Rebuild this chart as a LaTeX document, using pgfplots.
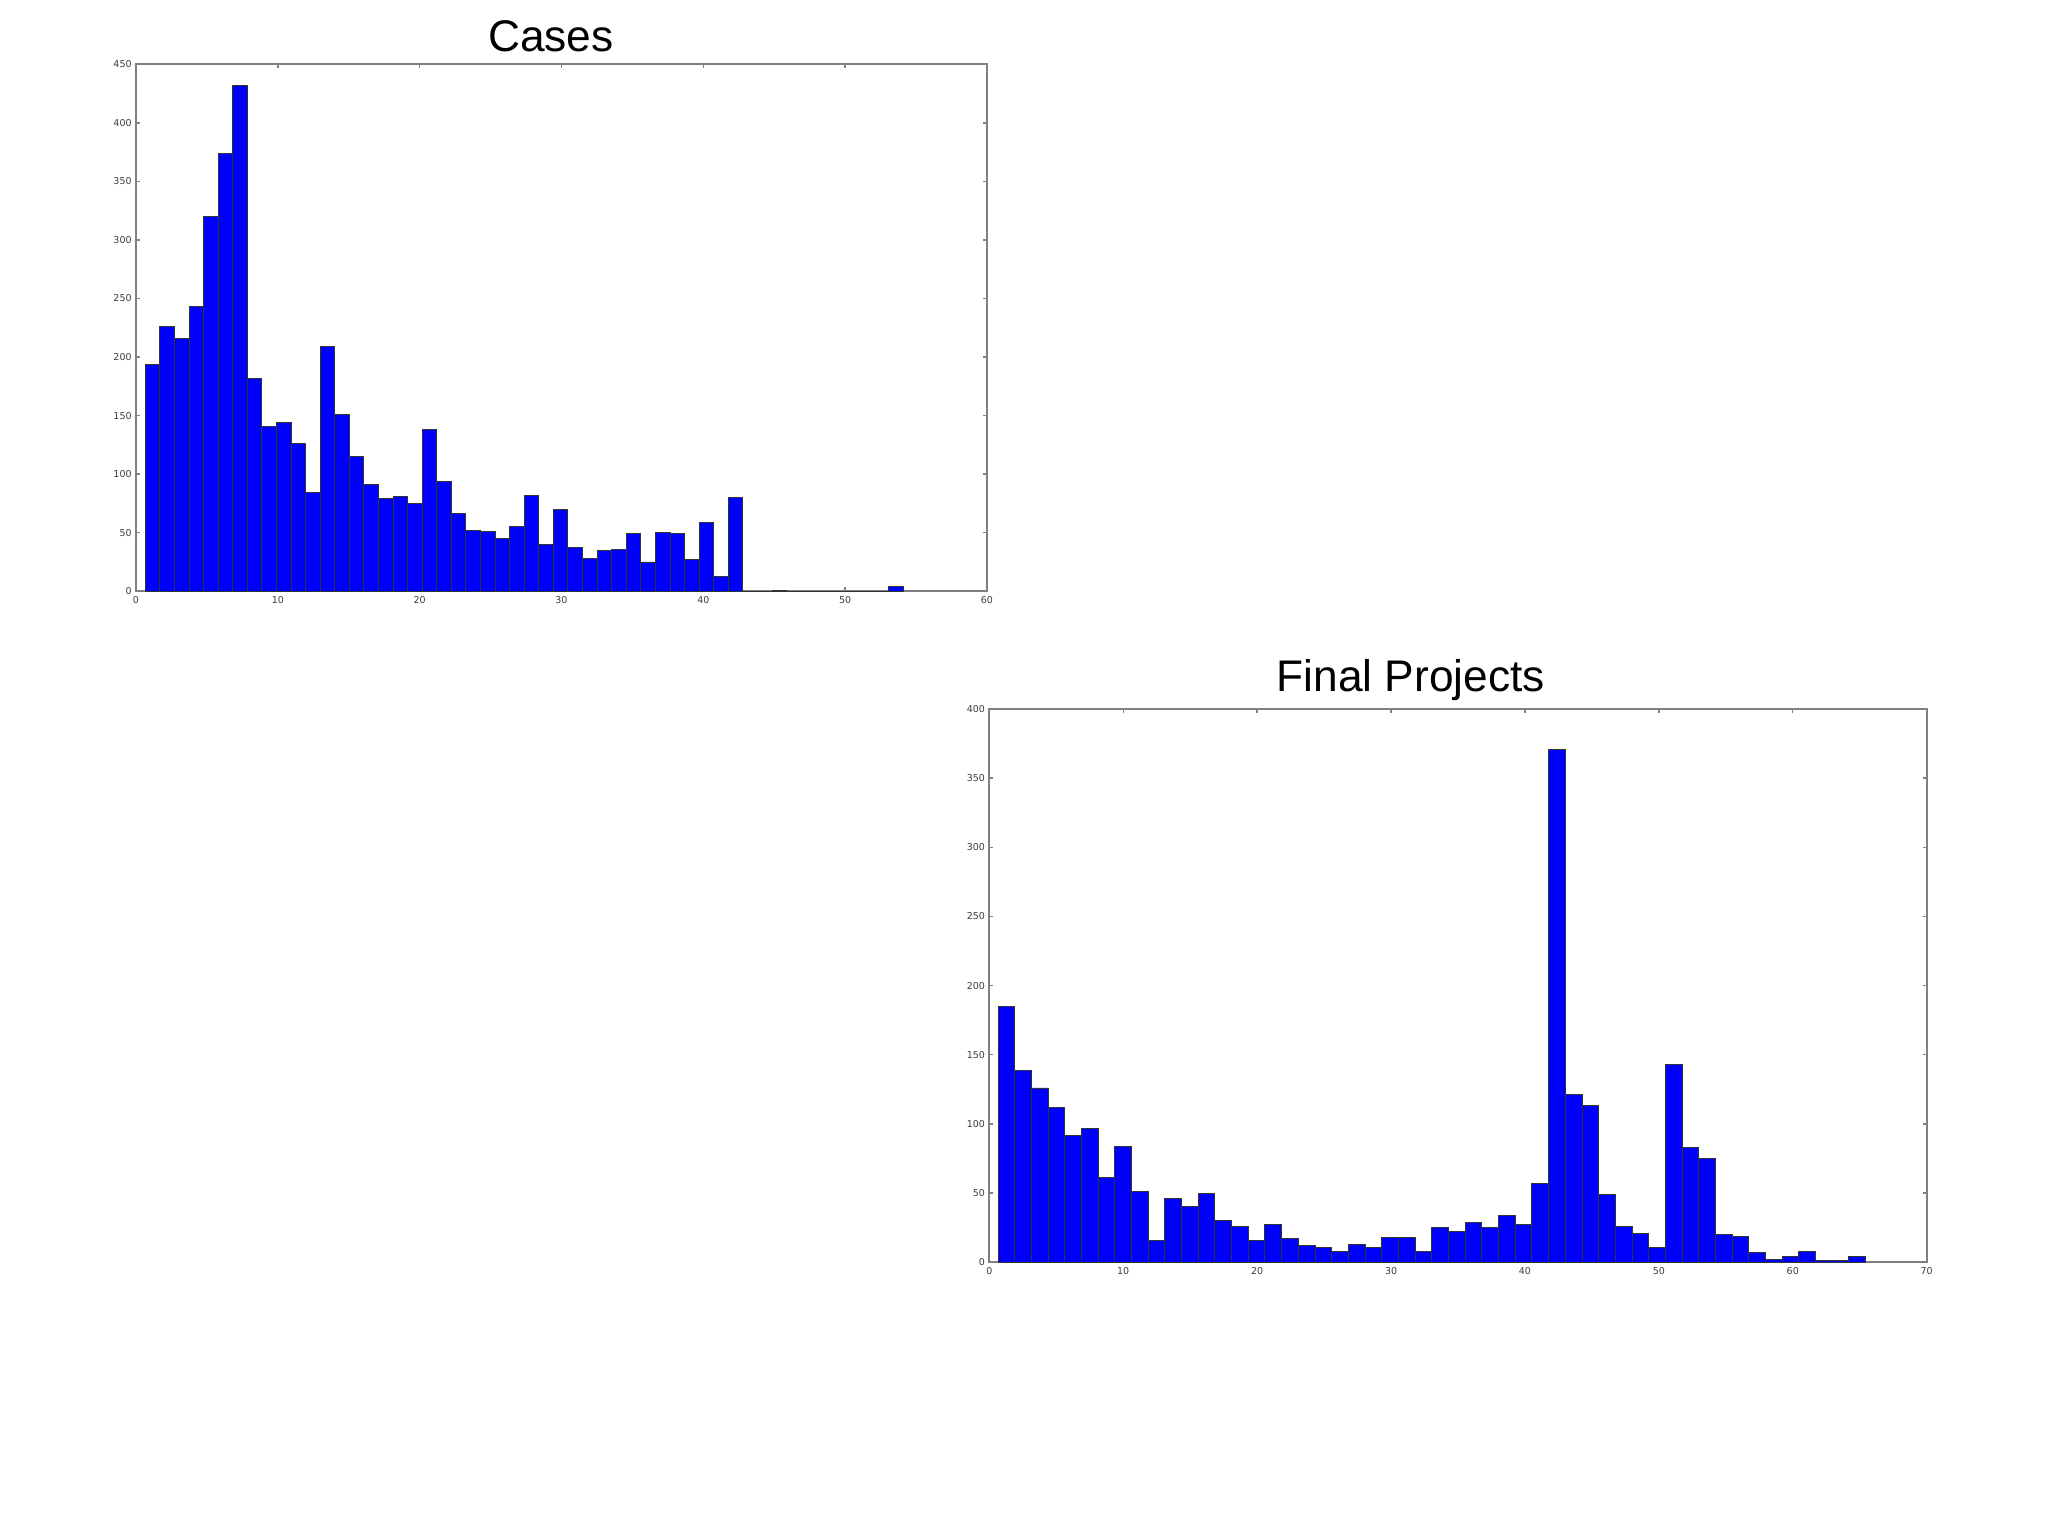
\documentclass[border=0pt]{standalone}
\usepackage{fontspec}
\setmainfont{Liberation Sans}
\newfontfamily\tickfont{DejaVu Sans}
\usepackage{pgfplots}
\pgfplotsset{compat=1.18}

\definecolor{histblue}{RGB}{0,0,255}
\definecolor{framegray}{RGB}{128,128,128}
\definecolor{ticktext}{RGB}{60,60,60}

\pgfplotsset{
  histaxis/.style={
    scale only axis,
    axis line style={framegray, line width=0.5pt},
    tick style={framegray, line width=0.4pt},
    major tick length=0.04cm,
    tick align=inside,
    xtick pos=both, ytick pos=both,
    ymin=0,
    x tick label as interval=false,
    ticklabel style={font=\tickfont\fontsize{2.7}{3}\selectfont, text=ticktext},
    /pgf/number format/assume math mode=true,
    xticklabel style={yshift=0.075cm},
    yticklabel style={xshift=0.08cm},
    scaled ticks=false,
    clip=false,
  },
  histbars/.style={
    ybar interval, fill=histblue, draw=black!80, line width=0.28pt,
  },
}

\begin{document}
\begin{tikzpicture}[x=1cm, y=1cm]
\path[use as bounding box] (0,0) rectangle (20.48,15.36);

% Cases
\begin{axis}[histaxis,
    at={(1.36cm,9.447cm)}, anchor=south west,
    width=8.51cm, height=5.27cm,
    xmin=0, xmax=60, ymax=450,
    xtick={0,10,...,60}, ytick={0,50,...,450}]
\addplot[histbars] coordinates {
(0.66,194)(1.6875,226)(2.715,216)(3.7425,243)(4.77,320)(5.7975,374)(6.825,432)
(7.8525,182)(8.88,141)(9.9075,144)(10.935,126)(11.9625,84)(12.99,209)(14.0175,151)
(15.045,115)(16.0725,91)(17.1,79)(18.1275,81)(19.155,75)(20.1825,138)(21.21,94)
(22.2375,66)(23.265,52)(24.2925,51)(25.32,45)(26.3475,55)(27.375,82)(28.4025,40)
(29.43,70)(30.4575,37)(31.485,28)(32.5125,35)(33.54,36)(34.5675,49)(35.595,25)
(36.6225,50)(37.65,49)(38.6775,27)(39.705,59)(40.7325,13)(41.76,80)(42.7875,0)
(43.815,0)(44.8425,1)(45.87,0)(46.8975,0)(47.925,0)(48.9525,0)(49.98,0)
(51.0075,0)(52.035,0)(53.0625,4)(54.09,0)
};
\end{axis}
\node[anchor=base, font=\fontsize{12.6}{15}\selectfont] at (5.508,14.843) {Cases};

% Final Projects
\begin{axis}[histaxis,
    at={(9.893cm,2.737cm)}, anchor=south west,
    width=9.374cm, height=5.533cm,
    xmin=0, xmax=70, ymax=400,
    xtick={0,10,...,70}, ytick={0,50,...,400}]
\addplot[histbars] coordinates {
(0.65,185)(1.896,139)(3.142,126)(4.388,112)(5.634,92)(6.88,97)(8.126,61)
(9.372,84)(10.618,51)(11.864,16)(13.11,46)(14.356,40)(15.602,50)(16.848,30)
(18.094,26)(19.34,16)(20.586,27)(21.832,17)(23.078,12)(24.324,11)(25.57,8)
(26.816,13)(28.062,11)(29.308,18)(30.554,18)(31.8,8)(33.046,25)(34.292,22)
(35.538,29)(36.784,25)(38.03,34)(39.276,27)(40.522,57)(41.768,371)(43.014,121)
(44.26,113)(45.506,49)(46.752,26)(47.998,21)(49.244,11)(50.49,143)(51.736,83)
(52.982,75)(54.228,20)(55.474,19)(56.72,7)(57.966,2)(59.212,4)(60.458,8)
(61.704,1)(62.95,1)(64.196,4)(65.442,0)
};
\end{axis}
\node[anchor=base, font=\fontsize{12.6}{15}\selectfont] at (14.108,8.443) {Final Projects};
\end{tikzpicture}
\end{document}
